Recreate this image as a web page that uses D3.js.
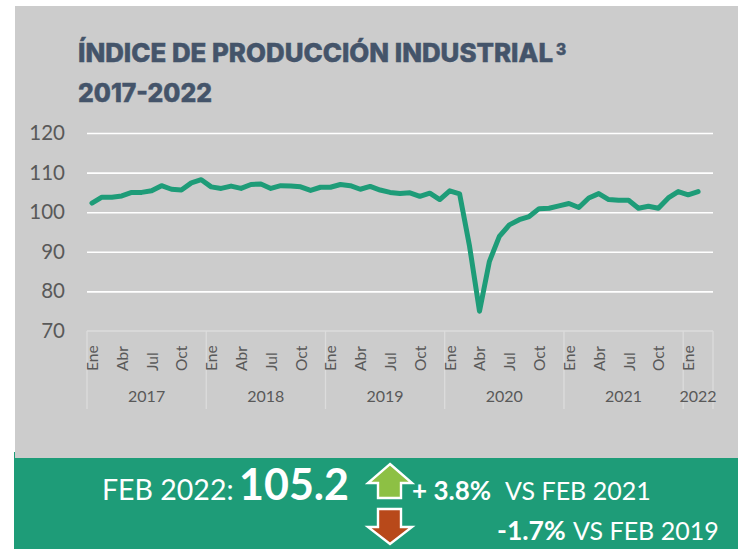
<!DOCTYPE html>
<html><head><meta charset="utf-8">
<script src="https://cdn.jsdelivr.net/npm/d3@7"></script>
<style>html,body{margin:0;padding:0;background:#fff}svg{display:block}</style>
</head><body><svg id="c" width="738" height="549"></svg>
<script>
const years = [2017,2018,2019,2020,2021,2022];
const monthNames = ["Ene","Feb","Mar","Abr","May","Jun","Jul","Ago","Sep","Oct","Nov","Dic"];
const shownMonths = ["Ene","Abr","Jul","Oct"];
const values = [102.3,103.8,103.8,104.1,105,105,105.4,106.7,105.8,105.6,107.4,108.2,
 106.4,106,106.6,106,107,107.1,106,106.7,106.6,106.4,105.5,106.3,
 106.3,107,106.7,105.8,106.5,105.6,105,104.7,104.9,104,104.8,103.2,
 105.4,104.6,91.4,75,87.6,93.9,96.8,98.1,98.9,100.9,101,101.6,
 102.2,101.2,103.6,104.7,103.2,103,103,101,101.5,101,103.6,105.2,
 104.4,105.2];
const yTicks = [70,80,90,100,110,120];
const titleLines = ["ÍNDICE DE PRODUCCIÓN INDUSTRIAL","2017-2022"];
const band = {label:"FEB 2022:", value:"105.2", up:["+ 3.8%","VS FEB 2021"], down:["-1.7%","VS FEB 2019"]};

// one category per month, Jan 2017 – Mar 2022 (the last one is empty)
const cats = [];
years.forEach(y => monthNames.forEach((m,i) => { if (y<2022 || i<3) cats.push({y,m,key:y+"-"+i}); }));

const svg = d3.select("#c");
const sans = "Lato, 'Open Sans', sans-serif";
const x = d3.scaleBand().domain(cats.map(d=>d.key)).range([87,713]);
const y = d3.scaleLinear().domain([70,120]).range([331,133]);

svg.append("rect").attr("x",15).attr("y",6).attr("width",723).attr("height",452).attr("fill","#cccccc");
svg.append("rect").attr("x",14).attr("y",458).attr("width",724).attr("height",91).attr("fill","#1e9c78");
svg.append("rect").attr("x",14).attr("y",452).attr("width",1).attr("height",6).attr("fill","#1e9c78");

// title
const t = svg.append("g").attr("font-family","Inter, 'Open Sans', sans-serif").attr("font-weight",800).attr("fill","#44546a").attr("stroke","#44546a").attr("stroke-width",0.5).attr("font-size",25.5);
t.append("text").attr("x",78).attr("y",62).attr("textLength",475).attr("lengthAdjust","spacingAndGlyphs").text(titleLines[0]);
t.append("text").attr("x",556).attr("y",55).attr("font-size",15.5).text("3");
t.append("text").attr("x",78).attr("y",102).attr("textLength",134).attr("lengthAdjust","spacingAndGlyphs").text(titleLines[1]);

// y axis + grid
const ya = svg.append("g").attr("transform","translate(87,0)")
  .call(d3.axisLeft(y).tickValues(yTicks).tickSize(0).tickPadding(22));
ya.select(".domain").remove();
ya.selectAll("text").attr("font-family",sans).attr("font-size",20.5).attr("fill","#595959");
ya.selectAll("line").attr("x2",626).attr("stroke",d=>d===70?"none":"#ffffff").attr("stroke-width",1.6);

// x axis
const ax = svg.append("g").attr("font-family",sans).attr("fill","#595959");
const axisColor = "#dcdcdc";
ax.append("line").attr("x1",87).attr("x2",713).attr("y1",331).attr("y2",331).attr("stroke",axisColor).attr("stroke-width",1.3);
const firsts = years.map(yr => cats.find(c=>c.y===yr));
const seps = firsts.map(c=>x(c.key)).concat([x.range()[1]]);
ax.selectAll("line.sep").data(seps).join("line").attr("class","sep")
  .attr("x1",d=>d).attr("x2",d=>d).attr("y1",331).attr("y2",409).attr("stroke",axisColor).attr("stroke-width",1.3);
const shown = cats.filter(c=>shownMonths.includes(c.m));
ax.selectAll("text.m").data(shown).join("text").attr("class","m")
  .attr("transform",d=>`translate(${x(d.key)+x.bandwidth()/2+6},371) rotate(-90)`)
  .attr("font-size",15.5).attr("text-anchor","start").text(d=>d.m);
ax.selectAll("text.yr").data(years).join("text").attr("class","yr")
  .attr("x",(d,i)=>(seps[i]+seps[i+1])/2).attr("y",402).attr("font-size",16).attr("text-anchor","middle").text(d=>d);

// line
svg.append("path").datum(values)
  .attr("fill","none").attr("stroke","#1e9c78").attr("stroke-width",5)
  .attr("stroke-linejoin","round").attr("stroke-linecap","round")
  .attr("d",d3.line().x((d,i)=>x(cats[i].key)+x.bandwidth()/2).y(d=>y(d)));

// band
const b = svg.append("g").attr("font-family",sans).attr("fill","#ffffff");
b.append("text").attr("x",102).attr("y",500).attr("font-size",28.5).text(band.label);
b.append("text").attr("x",239).attr("y",500).attr("font-size",43).attr("font-weight",700).text(band.value);
b.append("text").attr("x",412).attr("y",500).attr("font-size",26).attr("font-weight",700).text(band.up[0]);
b.append("text").attr("x",505).attr("y",500).attr("font-size",25).text(band.up[1]);
b.append("text").attr("x",497).attr("y",540).attr("font-size",26.5).attr("font-weight",700).text(band.down[0]);
b.append("text").attr("x",573).attr("y",540).attr("font-size",25).text(band.down[1]);

// arrows
const arrowUp = d3.path();
[[390,464],[412,483],[401,483],[401,498],[378,498],[378,483],[368,483]].forEach((p,i)=>i?arrowUp.lineTo(...p):arrowUp.moveTo(...p));
arrowUp.closePath();
svg.append("path").attr("d",arrowUp.toString()).attr("fill","#8dc044").attr("stroke","#fff").attr("stroke-width",2.4);
const arrowDown = d3.path();
[[378,509],[401,509],[401,527],[412,527],[390,544],[368,527],[378,527]].forEach((p,i)=>i?arrowDown.lineTo(...p):arrowDown.moveTo(...p));
arrowDown.closePath();
svg.append("path").attr("d",arrowDown.toString()).attr("fill","#b8491a").attr("stroke","#fff").attr("stroke-width",2.4);
</script></body></html>
